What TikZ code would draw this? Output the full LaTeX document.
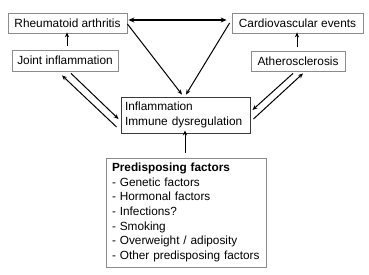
\documentclass[tikz,border=0pt]{standalone}
\usepackage{fontspec}
\setmainfont{Liberation Sans}
\usetikzlibrary{calc,arrows.meta}
\hyphenpenalty=10000
\definecolor{boxgray}{HTML}{8C8C8C}
\definecolor{boxdark}{HTML}{3A3A3A}
\tikzset{
  lbl/.style={draw=boxgray, line width=0.8pt, inner sep=0pt, font=\fontsize{11.85}{14}\selectfont, align=center},
  mainbox/.style={draw=boxdark, line width=0.9pt, inner xsep=4pt, inner ysep=0pt, font=\fontsize{11.85}{14.2}\selectfont, align=left},
  listbox/.style={draw=boxgray, line width=0.9pt, inner xsep=6pt, inner ysep=0pt, font=\fontsize{11.8}{14.6}\selectfont, align=left},
  arr/.style={line width=1pt, -{Stealth[length=5pt,width=4.2pt]}},
  darr/.style={line width=1.4pt, {Stealth[length=6pt,width=5pt]}-{Stealth[length=6pt,width=5pt]}}
}
\begin{document}
\begin{tikzpicture}[x=1pt,y=-1pt]
\useasboundingbox (0,0) rectangle (369,274);
\node[lbl, minimum width=119pt, minimum height=20pt] (ra) at (67.5,23) {Rheumatoid arthritis};
\node[lbl, minimum width=131pt, minimum height=20pt] (cv) at (297.5,23) {Cardiovascular events};
\node[lbl, minimum width=106pt, minimum height=21pt] (joint) at (65,60.5) {Joint inflammation};
\node[lbl, minimum width=94pt, minimum height=20pt] (ath) at (298,61) {Atherosclerosis};
\node[mainbox, text width=121pt, minimum height=36pt] (infl) at (185.5,115) {Inflammation\\Immune \mbox{dysregulation}};
\node[listbox, text width=148pt, minimum height=109pt] (pred) at (186,212.5) {\textbf{Predisposing factors}\\- Genetic factors\\- Hormonal factors\\- Infections?\\- Smoking\\- Overweight / adiposity\\- Other predisposing factors};

% top double arrow
\draw[darr] ($(ra.east)+(1,-3)$) -- ($(cv.west)+(-5,-3)$);
% small up arrows
\draw[arr] ($(joint.north)+(2,-4)$) -- ($(ra.south)+(-0.5,-1)$);
\draw[arr] ($(ath.north)+(-1,-4)$) -- ($(cv.south)+(-0.5,-1)$);
\draw[arr] ($(pred.north)+(-1,-5)$) -- ($(infl.south)+(-0.5,-3)$);
% converging to inflammation
\draw[arr] ($(ra.east)+(0,1)$) -- ($(infl.north)+(-3.5,-2)$);
\draw[arr] ($(cv.west)+(-2,0)$) -- ($(infl.north)+(0.5,-2)$);
% joint pair
\draw[arr] ($(joint.south)+(6,2)$) -- ($(infl.west)+(-2,4)$);
\draw[arr] ($(infl.west)+(-4,12)$) -- ($(joint.south)+(-3,4)$);
% athero pair
\draw[arr] ($(ath.south)+(-5,2)$) -- ($(infl.east)+(2,-5)$);
\draw[arr] ($(infl.east)+(3,4)$) -- ($(ath.south)+(5,2)$);
\end{tikzpicture}
\end{document}
